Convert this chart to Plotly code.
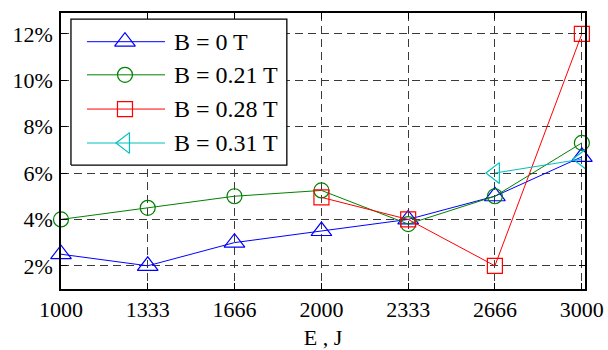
import plotly.graph_objects as go

# Discharge energy (J) and measured values (%) for each magnetic field
energy = [1000, 1333, 1666, 2000, 2333, 2666, 3000]

b0_vals = [2.5, 2.0, 3.0, 3.5, 4.0, 5.0, 6.7]
b021_vals = [4.0, 4.5, 5.0, 5.25, 3.8, 5.0, 7.3]
b028_energy = [2000, 2333, 2666, 3000]
b028_vals = [4.95, 4.0, 2.0, 12.0]
b031_energy = [2666, 3000]
b031_vals = [6.0, 6.6]

series_names = ["B = 0 T", "B = 0.21 T", "B = 0.28 T", "B = 0.31 T"]
y_ticks = [2, 4, 6, 8, 10, 12]
y_tick_labels = [f"{v}%" for v in y_ticks]

FONT = "Liberation Serif"
styles = [
    dict(color="#0000FF", symbol="triangle-up-open", size=18),
    dict(color="#008000", symbol="circle-open", size=15),
    dict(color="#FF0000", symbol="square-open", size=15),
    dict(color="#00BFBF", symbol="triangle-left-open", size=18),
]
series = [
    (energy, b0_vals),
    (energy, b021_vals),
    (b028_energy, b028_vals),
    (b031_energy, b031_vals),
]

fig = go.Figure()

for (xs, ys), name, st in zip(series, series_names, styles):
    fig.add_trace(go.Scatter(
        x=xs, y=ys, name=name, mode="lines+markers",
        line=dict(color=st["color"], width=1),
        marker=dict(symbol=st["symbol"], size=st["size"], color=st["color"],
                    line=dict(color=st["color"], width=1.2)),
        cliponaxis=False, showlegend=False,
    ))

# Boxed legend drawn on an overlay axis pair spanning the plot area (0..1)
box_x0, box_x1, box_y0, box_y1 = 0.019, 0.431, 0.449, 0.978
fig.add_trace(go.Scatter(
    x=[box_x0, box_x1, box_x1, box_x0, box_x0],
    y=[box_y0, box_y0, box_y1, box_y1, box_y0],
    xaxis="x2", yaxis="y2", mode="lines", fill="toself",
    fillcolor="white", line=dict(color="black", width=1.3),
    hoverinfo="skip", showlegend=False,
))
row_y = [0.896, 0.776, 0.652, 0.529]
line_x0, line_x1, mark_x, text_x = 0.0496, 0.1985, 0.1221, 0.2118
for name, st, ry in zip(series_names, styles, row_y):
    fig.add_trace(go.Scatter(
        x=[line_x0, line_x1], y=[ry, ry], xaxis="x2", yaxis="y2",
        mode="lines", line=dict(color=st["color"], width=1),
        hoverinfo="skip", showlegend=False,
    ))
    fig.add_trace(go.Scatter(
        x=[mark_x], y=[ry], xaxis="x2", yaxis="y2", mode="markers",
        marker=dict(symbol=st["symbol"], size=st["size"], color=st["color"],
                    line=dict(color=st["color"], width=1.2)),
        hoverinfo="skip", showlegend=False,
    ))
    fig.add_annotation(
        x=text_x, y=ry, xref="x2", yref="y2", text=name, showarrow=False,
        xanchor="left", yanchor="middle",
        font=dict(family=FONT, size=24, color="black"),
    )

grid_style = dict(showgrid=True, gridcolor="#3a3a3a", gridwidth=1,
                  griddash="8px,5px")
axis_style = dict(showline=True, linecolor="black", linewidth=1.5,
                  mirror="ticks", ticks="inside", ticklen=6,
                  tickcolor="black", tickwidth=1, zeroline=False,
                  automargin=False,
                  tickfont=dict(family=FONT, size=22, color="black"))

fig.update_layout(
    width=608, height=350,
    margin=dict(l=61, r=23, t=13, b=61),
    paper_bgcolor="white", plot_bgcolor="white",
    showlegend=False,
    font=dict(family=FONT, color="black"),
    xaxis=dict(range=[1000, 3012], tickvals=energy,
               ticktext=[str(e) for e in energy], ticklabelstandoff=0,
               title=dict(text="E , J", standoff=16,
                          font=dict(family=FONT, size=22, color="black")),
               **grid_style, **axis_style),
    yaxis=dict(range=[1, 12.9], tickvals=y_ticks, ticktext=y_tick_labels,
               ticklabelstandoff=2,
               **grid_style, **axis_style),
    xaxis2=dict(range=[0, 1], overlaying="x", visible=False),
    yaxis2=dict(range=[0, 1], overlaying="y", visible=False),
)

fig.write_html("out.html")
